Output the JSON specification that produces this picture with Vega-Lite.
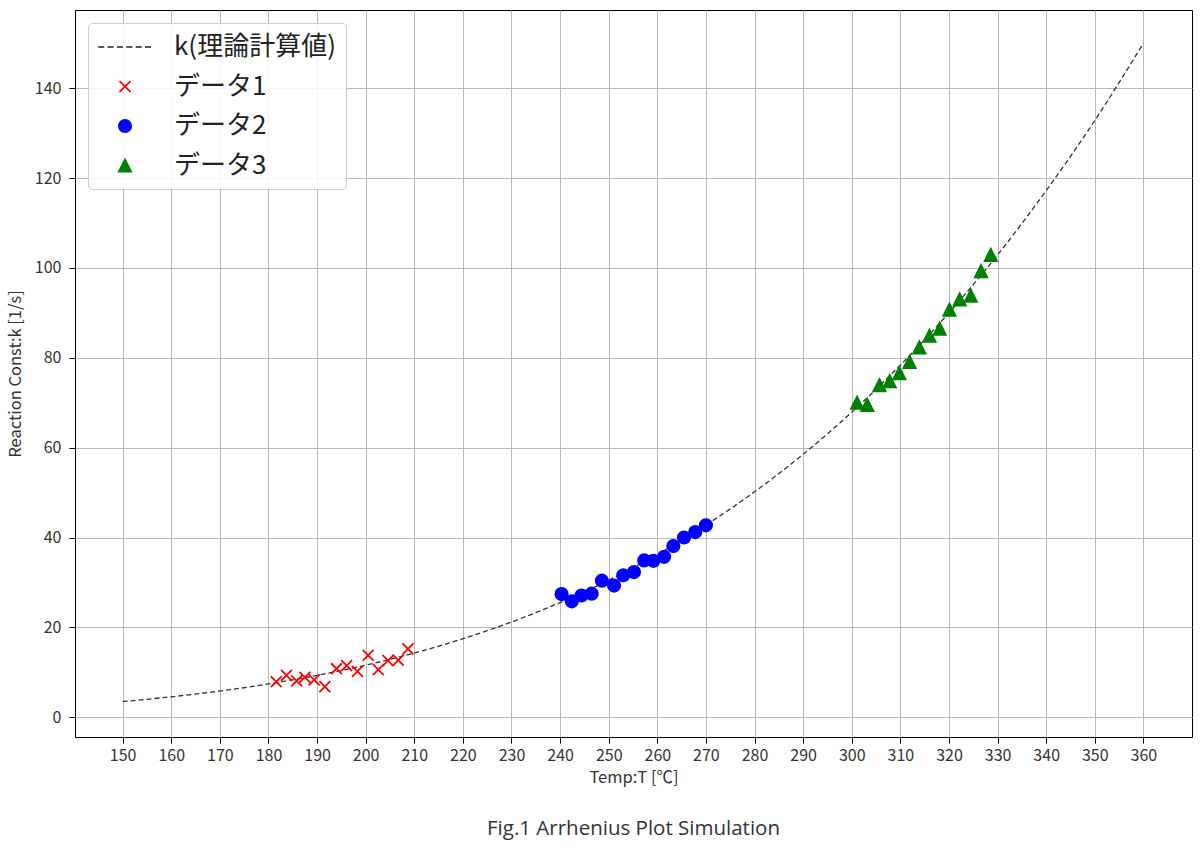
{
  "$schema": "https://vega.github.io/schema/vega-lite/v6.json",
  "width": 1117,
  "height": 727,
  "autosize": {"type": "none"},
  "padding": {"left": 75, "top": 10, "right": 8, "bottom": 112},
  "background": "white",
  "title": {
    "text": "Fig.1 Arrhenius Plot Simulation",
    "orient": "bottom",
    "anchor": "middle",
    "frame": "group",
    "offset": 33,
    "font": "Open Sans",
    "fontSize": 20.5,
    "fontWeight": "normal",
    "color": "#333"
  },
  "config": {
    "view": {"stroke": "black", "strokeWidth": 1},
    "font": "Noto Sans CJK JP",
    "axis": {
      "gridColor": "#b8b8b8",
      "gridWidth": 1,
      "domainColor": "black",
      "tickColor": "black",
      "tickSize": 6,
      "labelFont": "Noto Sans CJK JP",
      "labelFontSize": 16,
      "labelColor": "#333",
      "titleFont": "Noto Sans CJK JP",
      "titleFontSize": 16.5,
      "titleFontWeight": "normal",
      "titleColor": "#333"
    }
  },
  "datasets": {
    "curve": [
      {"T": 150, "k": 3.5},
      {"T": 160, "k": 4.55},
      {"T": 170, "k": 5.83},
      {"T": 180, "k": 7.41},
      {"T": 190, "k": 9.31},
      {"T": 200, "k": 11.58},
      {"T": 210, "k": 14.29},
      {"T": 220, "k": 17.47},
      {"T": 230, "k": 21.2},
      {"T": 240, "k": 25.52},
      {"T": 250, "k": 30.51},
      {"T": 260, "k": 36.24},
      {"T": 270, "k": 42.77},
      {"T": 280, "k": 50.17},
      {"T": 290, "k": 58.51},
      {"T": 300, "k": 67.89},
      {"T": 310, "k": 78.36},
      {"T": 320, "k": 90.01},
      {"T": 330, "k": 102.9},
      {"T": 340, "k": 117.2},
      {"T": 350, "k": 132.8},
      {"T": 360, "k": 150.0}
    ],
    "points": [
      {"T": 181.6, "k": 7.9, "series": "データ1"},
      {"T": 183.7, "k": 9.3, "series": "データ1"},
      {"T": 185.8, "k": 8.1, "series": "データ1"},
      {"T": 187.5, "k": 8.9, "series": "データ1"},
      {"T": 189.4, "k": 8.3, "series": "データ1"},
      {"T": 191.6, "k": 6.8, "series": "データ1"},
      {"T": 194.0, "k": 10.8, "series": "データ1"},
      {"T": 196.1, "k": 11.5, "series": "データ1"},
      {"T": 198.3, "k": 10.2, "series": "データ1"},
      {"T": 200.5, "k": 13.8, "series": "データ1"},
      {"T": 202.6, "k": 10.6, "series": "データ1"},
      {"T": 204.6, "k": 12.6, "series": "データ1"},
      {"T": 206.7, "k": 12.7, "series": "データ1"},
      {"T": 208.7, "k": 15.2, "series": "データ1"},
      {"T": 240.3, "k": 27.4, "series": "データ2"},
      {"T": 242.4, "k": 25.8, "series": "データ2"},
      {"T": 244.4, "k": 27.1, "series": "データ2"},
      {"T": 246.5, "k": 27.5, "series": "データ2"},
      {"T": 248.6, "k": 30.4, "series": "データ2"},
      {"T": 251.1, "k": 29.3, "series": "データ2"},
      {"T": 253.0, "k": 31.6, "series": "データ2"},
      {"T": 255.2, "k": 32.3, "series": "データ2"},
      {"T": 257.3, "k": 34.9, "series": "データ2"},
      {"T": 259.2, "k": 34.8, "series": "データ2"},
      {"T": 261.4, "k": 35.7, "series": "データ2"},
      {"T": 263.3, "k": 38.1, "series": "データ2"},
      {"T": 265.5, "k": 40.0, "series": "データ2"},
      {"T": 267.8, "k": 41.2, "series": "データ2"},
      {"T": 270.0, "k": 42.7, "series": "データ2"},
      {"T": 301.1, "k": 70.0, "series": "データ3"},
      {"T": 303.2, "k": 69.5, "series": "データ3"},
      {"T": 305.7, "k": 73.9, "series": "データ3"},
      {"T": 307.8, "k": 74.8, "series": "データ3"},
      {"T": 309.8, "k": 76.6, "series": "データ3"},
      {"T": 311.9, "k": 79.1, "series": "データ3"},
      {"T": 313.9, "k": 82.3, "series": "データ3"},
      {"T": 316.0, "k": 84.9, "series": "データ3"},
      {"T": 318.1, "k": 86.5, "series": "データ3"},
      {"T": 320.1, "k": 90.7, "series": "データ3"},
      {"T": 322.2, "k": 93.0, "series": "データ3"},
      {"T": 324.5, "k": 93.8, "series": "データ3"},
      {"T": 326.6, "k": 99.3, "series": "データ3"},
      {"T": 328.6, "k": 102.9, "series": "データ3"}
    ]
  },
  "layer": [
    {
      "data": {"name": "curve"},
      "mark": {
        "type": "line",
        "color": "#333",
        "strokeWidth": 1.3,
        "strokeDash": [5, 3],
        "interpolate": "monotone"
      },
      "encoding": {
        "x": {
          "field": "T",
          "type": "quantitative",
          "title": "Temp:T [℃]",
          "scale": {"domain": [140.2, 370], "nice": false, "zero": false},
          "axis": {
            "values": [150, 160, 170, 180, 190, 200, 210, 220, 230, 240, 250, 260, 270, 280, 290, 300, 310, 320, 330, 340, 350, 360],
            "labelAngle": 0,
            "labelFlush": false,
            "labelPadding": 4,
            "titlePadding": 6
          }
        },
        "y": {
          "field": "k",
          "type": "quantitative",
          "title": "Reaction Const:k [1/s]",
          "scale": {"domain": [-4.4, 157.4], "nice": false, "zero": false},
          "axis": {
            "values": [0, 20, 40, 60, 80, 100, 120, 140],
            "labelPadding": 8,
            "titlePadding": 11
          }
        }
      }
    },
    {
      "data": {"name": "points"},
      "mark": {"type": "point", "opacity": 1, "strokeWidth": 1.8, "size": 676},
      "encoding": {
        "x": {"field": "T", "type": "quantitative"},
        "y": {"field": "k", "type": "quantitative"},
        "shape": {
          "field": "series",
          "type": "nominal",
          "scale": {
            "domain": ["k(理論計算値)", "データ1", "データ2", "データ3"],
            "range": [
              "M-2.06,0H-1.6M-1.34,0H-0.88M-0.62,0H-0.16M0.1,0H0.56M0.82,0H1.28M1.54,0H2",
              "M-0.42,-0.42L0.42,0.42M-0.42,0.42L0.42,-0.42",
              "M0.475,0A0.475,0.475 0 1,1 -0.475,0A0.475,0.475 0 1,1 0.475,0Z",
              "M0,-0.475L0.475,0.475L-0.475,0.475Z"
            ]
          },
          "legend": {
            "title": null,
            "orient": "none",
            "legendX": 13,
            "legendY": 13,
            "symbolSize": 676,
            "symbolOffset": 13,
            "symbolStrokeWidth": 1.7,
            "labelFont": "Noto Sans CJK JP",
            "labelFontSize": 26,
            "labelColor": "#222",
            "labelLimit": 300,
            "labelOffset": 35,
            "rowPadding": 12.5,
            "padding": 10,
            "fillColor": "rgba(255,255,255,0.85)",
            "strokeColor": "#cccccc",
            "cornerRadius": 4
          }
        },
        "fill": {
          "field": "series",
          "type": "nominal",
          "scale": {
            "domain": ["k(理論計算値)", "データ1", "データ2", "データ3"],
            "range": ["transparent", "transparent", "blue", "green"]
          },
          "legend": {"title": null}
        },
        "stroke": {
          "field": "series",
          "type": "nominal",
          "scale": {
            "domain": ["k(理論計算値)", "データ1", "データ2", "データ3"],
            "range": ["#222", "red", "blue", "green"]
          },
          "legend": {"title": null}
        }
      }
    }
  ]
}
